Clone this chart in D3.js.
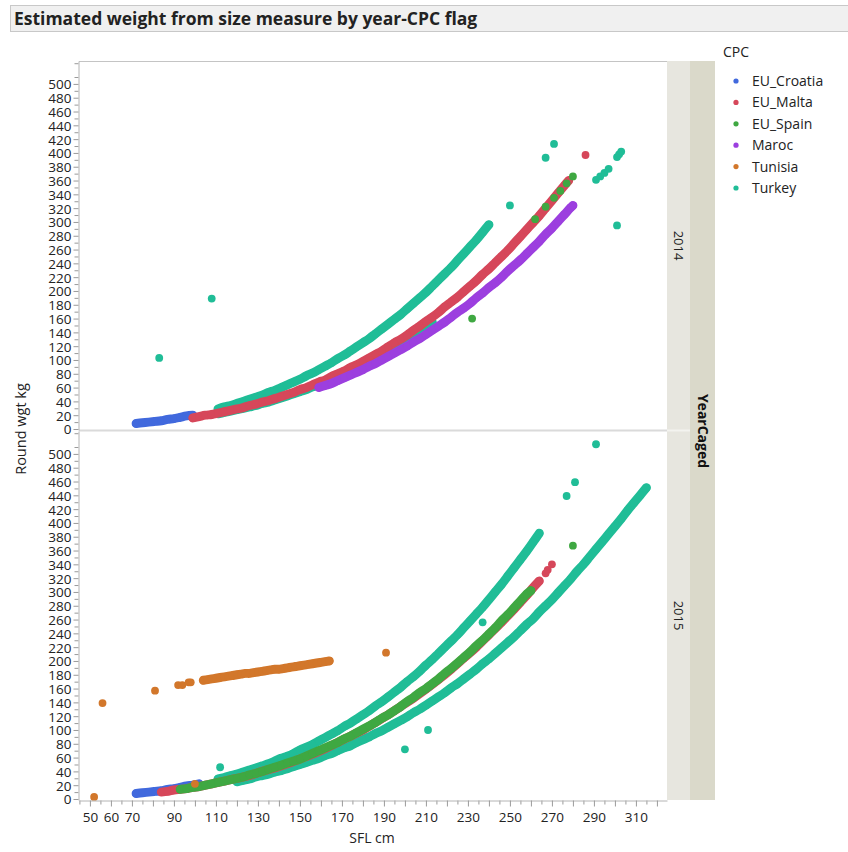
<!DOCTYPE html>
<html>
<head>
<meta charset="utf-8">
<script src="https://cdn.jsdelivr.net/npm/d3@7/dist/d3.min.js"></script>
<style>
  body { margin: 0; background: #fff; }
  svg { font-family: 'Open Sans', sans-serif; display: block; }
</style>
</head>
<body>
<svg id="chart"></svg>
<script>
const categories = ['EU_Croatia', 'EU_Malta', 'EU_Spain', 'Maroc', 'Tunisia', 'Turkey']
const colors = ['#4169dd', '#d6475a', '#3fa842', '#9c3fdf', '#d2772b', '#20bd97']
const years = ['2014', '2015']
const xTickLabels = [50, 60, 70, 90, 110, 130, 150, 170, 190, 210, 230, 250, 270, 290, 310]
const yTickLabels = [0, 20, 40, 60, 80, 100, 120, 140, 160, 180, 200, 220, 240, 260, 280, 300, 320, 340, 360, 380, 400, 420, 440, 460, 480, 500]

// 2014 -- [SFL cm, round wgt kg]; dense runs of fish along a band, then loose fish
const croatia2014 = [[72,8],[75,9],[78,10],[81,11],[84,12],[87,14],[90,15],[93,17],[96,19],[99,20]]
const turkey2014Upper = [[111,29],[114,32],[117,34],[120,37],[123,40],[126,43],[129,46],[132,49],[135,53],[138,56],[141,60],[144,64],[147,68],[150,72],[153,77],[156,81],[159,86],[162,91],[165,96],[168,102],[171,107],[174,113],[177,119],[180,125],[183,131],[186,138],[189,145],[192,152],[195,159],[198,166],[201,174],[204,182],[207,190],[210,198],[213,207],[216,216],[219,225],[222,234],[225,244],[228,254],[231,264],[234,274],[237,285],[240,296]]
const turkey2014Lower = [[111,22],[114,24],[117,26],[120,28],[123,30],[126,32],[129,34],[132,37],[135,39],[138,42],[141,45],[144,48],[147,51],[150,54],[153,57],[156,61],[159,64],[162,68],[165,72],[168,76],[171,80],[174,84],[177,89],[180,93],[183,98],[186,103],[189,108],[192,113],[195,119],[198,124],[201,130],[204,136],[207,142],[210,148],[213,155]]
const turkey2014Loose = [[83,103],[108,189],[250,324],[267,393],[271,413],[301,295],[291,361],[293,366],[295,371],[297,377],[301,394],[302,398],[303,402]]
const malta2014 = [[99,16],[102,18],[105,20],[108,21],[111,23],[114,25],[117,27],[120,29],[123,31],[126,34],[129,36],[132,39],[135,41],[138,44],[141,47],[144,50],[147,53],[150,57],[153,60],[156,64],[159,68],[162,71],[165,76],[168,80],[171,84],[174,89],[177,93],[180,98],[183,103],[186,108],[189,113],[192,119],[195,125],[198,130],[201,136],[204,143],[207,149],[210,156],[213,162],[216,169],[219,177],[222,184],[225,191],[228,199],[231,207],[234,215],[237,224],[240,232],[243,241],[246,250],[249,259],[252,269],[255,279],[258,289],[261,299],[264,309],[267,320],[270,331],[273,342],[276,353],[278,360]]
const malta2014Loose = [[286,397]]
const maroc2014 = [[159,60],[162,63],[165,66],[168,70],[171,74],[174,78],[177,82],[180,86],[183,91],[186,95],[189,100],[192,105],[195,110],[198,115],[201,120],[204,126],[207,131],[210,137],[213,143],[216,149],[219,155],[222,162],[225,169],[228,175],[231,182],[234,190],[237,197],[240,205],[243,212],[246,220],[249,229],[252,237],[255,245],[258,254],[261,263],[264,272],[267,282],[270,291],[273,301],[276,311],[279,321],[280,324]]
const spain2014Loose = [[232,160],[262,304],[267,322],[271,335],[274,345],[277,356],[280,366]]

// 2015
const croatia2015 = [[72,8],[75,9],[78,10],[81,11],[84,12],[87,14],[90,15],[93,17],[96,19],[99,20],[102,22]]
const turkey2015Upper = [[111,29],[114,31],[117,34],[120,36],[123,39],[126,42],[129,45],[132,48],[135,51],[138,55],[141,59],[144,62],[147,66],[150,71],[153,75],[156,79],[159,84],[162,89],[165,94],[168,99],[171,105],[174,110],[177,116],[180,122],[183,128],[186,135],[189,141],[192,148],[195,155],[198,162],[201,170],[204,177],[207,185],[210,194],[213,202],[216,211],[219,220],[222,229],[225,238],[228,248],[231,258],[234,268],[237,278],[240,289],[243,300],[246,311],[249,323],[252,335],[255,347],[258,359],[261,372],[264,385]]
const turkey2015Lower = [[120,25],[123,27],[126,29],[129,32],[132,34],[135,36],[138,39],[141,41],[144,44],[147,47],[150,50],[153,53],[156,56],[159,59],[162,63],[165,66],[168,70],[171,74],[174,77],[177,82],[180,86],[183,90],[186,95],[189,99],[192,104],[195,109],[198,114],[201,119],[204,125],[207,130],[210,136],[213,142],[216,148],[219,154],[222,161],[225,167],[228,174],[231,181],[234,188],[237,196],[240,203],[243,211],[246,219],[249,227],[252,235],[255,244],[258,253],[261,261],[264,271],[267,280],[270,289],[273,299],[276,309],[279,319],[282,330],[285,340],[288,351],[291,362],[294,373],[297,384],[300,395],[303,406],[306,418],[309,429],[312,440],[315,451]]
const turkey2015Loose = [[112,46],[200,72],[211,100],[237,256],[277,439],[281,459],[291,514]]
const malta2015 = [[84,10],[87,11],[90,13],[93,14],[96,15],[99,17],[102,18],[105,20],[108,22],[111,24],[114,26],[117,28],[120,30],[126,34],[132,40],[138,45],[144,51],[150,58],[156,65],[162,73],[168,82],[174,91],[180,100],[186,111],[192,122],[198,134],[204,146],[210,159],[216,173],[222,188],[228,204],[234,220],[240,238],[246,256],[252,275],[255,285],[258,295],[261,306],[264,316]]
const malta2015Loose = [[267,327],[268,332],[270,340]]
const spain2015 = [[93,14],[96,15],[99,17],[102,18],[105,20],[108,22],[111,24],[114,26],[117,28],[120,30],[123,32],[126,35],[129,37],[132,40],[135,43],[138,46],[141,49],[144,52],[147,55],[150,58],[153,62],[156,66],[159,70],[162,74],[165,78],[168,82],[171,87],[174,91],[177,96],[180,101],[183,106],[186,111],[189,117],[192,122],[195,128],[198,134],[201,141],[204,147],[207,154],[210,160],[213,167],[216,174],[219,182],[222,189],[225,197],[228,205],[231,213],[234,222],[237,230],[240,239],[243,248],[246,258],[249,267],[252,277],[255,287],[258,297],[260,302]]
const spain2015Loose = [[280,367]]
const tunisia2015 = [[104,172],[106,173],[108,174],[110,175],[112,176],[114,177],[116,178],[118,179],[120,180],[122,181],[124,182],[126,182],[128,183],[130,184],[132,185],[134,186],[136,187],[138,188],[140,188],[142,189],[144,190],[146,191],[148,192],[150,193],[152,194],[154,195],[156,196],[158,197],[160,198],[162,199],[164,200]]
const tunisia2015Loose = [[52,3],[56,139],[81,157],[92,165],[94,165],[97,169],[98,169],[100,22],[191,212]]

// drawing order inside a panel: category index, dense bands, loose fish
const panels = [
  { year: '2014', layers: [
    { cat: 0, bands: [croatia2014], loose: [] },
    { cat: 5, bands: [turkey2014Lower, turkey2014Upper], loose: turkey2014Loose },
    { cat: 1, bands: [malta2014], loose: malta2014Loose },
    { cat: 3, bands: [maroc2014], loose: [] },
    { cat: 2, bands: [], loose: spain2014Loose },
  ] },
  { year: '2015', layers: [
    { cat: 0, bands: [croatia2015], loose: [] },
    { cat: 5, bands: [turkey2015Lower, turkey2015Upper], loose: turkey2015Loose },
    { cat: 1, bands: [malta2015], loose: malta2015Loose },
    { cat: 2, bands: [spain2015], loose: spain2015Loose },
    { cat: 4, bands: [tunisia2015], loose: tunisia2015Loose },
  ] },
]

const drawChart = () => {
  const config = getConfig()
  const scales = getScales(config)
  drawFrame(config)
  panels.forEach((p, i) => drawPoints(p, i, config, scales))
  drawAxes(config, scales)
  drawStrips(config)
  drawLegend(config)
  drawTitles(config)
}

const getConfig = () => {
  const width = 848
  const height = 852
  const left = 79
  const right = 667
  const panelTop = [61, 431]
  const panelHeight = 369
  const dotR = 3.9
  const container = d3.select('#chart').attr('width', width).attr('height', height)
  return { width, height, left, right, panelTop, panelHeight, dotR, container }
}

const getScales = (config) => {
  const { left, right, panelTop, panelHeight } = config
  const xScale = d3.scaleLinear().domain([44.8, 324.8]).range([left, right])
  const yScales = panelTop.map((t) =>
    d3.scaleLinear().domain([-1.45, 533.2]).range([t + panelHeight, t])
  )
  return { xScale, yScales }
}

const drawFrame = (config) => {
  const { container, left, right, panelTop } = config
  container.append('line')
    .attr('x1', left).attr('x2', right).attr('y1', panelTop[0] + 0.5).attr('y2', panelTop[0] + 0.5)
    .attr('stroke', '#c4c4c4')
  container.append('line')
    .attr('x1', left).attr('x2', right).attr('y1', panelTop[1] - 0.5).attr('y2', panelTop[1] - 0.5)
    .attr('stroke', '#dadada').attr('stroke-width', 2)
}

const drawPoints = (panel, index, config, scales) => {
  const { container, dotR } = config
  const { xScale, yScales } = scales
  const yScale = yScales[index]
  const body = container.append('g').attr('id', 'points' + index)
  const line = d3.line().x((d) => xScale(d[0])).y((d) => yScale(d[1])).curve(d3.curveCatmullRom)

  panel.layers.forEach((layer) => {
    const fill = colors[layer.cat]
    const g = body.append('g')
    layer.bands.forEach((band) => {
      g.append('path')
        .attr('d', line(band))
        .attr('fill', 'none')
        .attr('stroke', fill)
        .attr('stroke-width', dotR * 2.3)
        .attr('stroke-linecap', 'round')
        .attr('stroke-linejoin', 'round')
      g.append('g')
        .selectAll('circle')
        .data(band)
        .enter()
        .append('circle')
        .attr('cx', (d) => xScale(d[0]))
        .attr('cy', (d) => yScale(d[1]))
        .attr('r', dotR)
        .attr('fill', fill)
    })
    g.append('g')
      .selectAll('circle')
      .data(layer.loose)
      .enter()
      .append('circle')
      .attr('cx', (d) => xScale(d[0]))
      .attr('cy', (d) => yScale(d[1]))
      .attr('r', dotR)
      .attr('fill', fill)
  })
}

const drawAxes = (config, scales) => {
  const { container, left, panelTop, panelHeight } = config
  const { xScale, yScales } = scales

  yScales.forEach((yScale) => {
    const minor = container.append('g')
      .attr('transform', `translate(${left - 0.5},0)`)
      .call(d3.axisLeft(yScale).tickValues(d3.range(10, 531, 20)).tickSize(4).tickSizeOuter(0).tickFormat(''))
    minor.select('.domain').remove()
    minor.selectAll('line').attr('stroke', '#9a9a9a')

    const major = container.append('g')
      .attr('transform', `translate(${left - 0.5},0)`)
      .style('font-size', '13.5px')
      .style('font-family', "'Open Sans', sans-serif")
      .call(d3.axisLeft(yScale).tickValues(yTickLabels).tickSize(5).tickSizeOuter(0).tickPadding(2))
    major.select('.domain').attr('stroke', '#b4b4b4')
    major.selectAll('line').attr('stroke', '#9a9a9a')
    major.selectAll('text').attr('fill', '#222').attr('dy', '0.36em')
  })

  const bottom = panelTop[1] + panelHeight
  const minorX = container.append('g')
    .attr('transform', `translate(0,${bottom + 0.5})`)
    .call(d3.axisBottom(xScale).tickValues(d3.range(45, 325, 10)).tickSize(4).tickSizeOuter(0).tickFormat(''))
  minorX.select('.domain').remove()
  minorX.selectAll('line').attr('stroke', '#9a9a9a')

  const axisX = container.append('g')
    .attr('transform', `translate(0,${bottom + 0.5})`)
    .style('font-size', '13.5px')
    .style('font-family', "'Open Sans', sans-serif")
    .call(d3.axisBottom(xScale).tickValues(d3.range(50, 321, 10)).tickSize(6).tickSizeOuter(0)
      .tickFormat((d) => (xTickLabels.includes(d) ? d : '')))
  axisX.select('.domain').attr('stroke', '#b4b4b4')
  axisX.selectAll('line').attr('stroke', '#9a9a9a')
  axisX.selectAll('text').attr('fill', '#222').attr('dy', '0.9em')
}

const drawStrips = (config) => {
  const { container, right, panelTop, panelHeight } = config
  const bottom = panelTop[1] + panelHeight
  container.append('rect')
    .attr('x', right).attr('y', panelTop[0]).attr('width', 23).attr('height', bottom - panelTop[0])
    .attr('fill', '#e7e6df')
  container.append('rect')
    .attr('x', right + 23).attr('y', panelTop[0]).attr('width', 25).attr('height', bottom - panelTop[0])
    .attr('fill', '#dad9ca')
  container.append('line')
    .attr('x1', right).attr('x2', right + 23).attr('y1', panelTop[1] - 0.5).attr('y2', panelTop[1] - 0.5)
    .attr('stroke', '#f3f3ef').attr('stroke-width', 2)
  years.forEach((y, i) => {
    container.append('text')
      .attr('transform', `translate(${right + 7},${panelTop[i] + panelHeight / 2}) rotate(90)`)
      .attr('text-anchor', 'middle')
      .style('font-size', '13px')
      .attr('fill', '#222')
      .text(y)
  })
  container.append('text')
    .attr('transform', `translate(${right + 31},${panelTop[1]}) rotate(90)`)
    .attr('text-anchor', 'middle')
    .style('font-size', '14px')
    .style('font-weight', 'bold')
    .attr('fill', '#111')
    .text('YearCaged')
}

const drawLegend = (config) => {
  const { container } = config
  const legend = container.append('g').attr('transform', 'translate(723,0)')
  legend.append('text').attr('x', 0).attr('y', 57).style('font-size', '14px').attr('fill', '#222').text('CPC')
  const items = legend.selectAll('g.item').data(categories).enter().append('g')
    .attr('transform', (d, i) => `translate(0,${81 + i * 21.4})`)
  items.append('circle').attr('cx', 13).attr('cy', 0).attr('r', 2.6).attr('fill', (d, i) => colors[i])
  items.append('text').attr('x', 29).attr('y', 0).attr('dy', '0.35em')
    .style('font-size', '14px').attr('fill', '#222').text((d) => d)
}

const drawTitles = (config) => {
  const { container } = config
  container.append('rect')
    .attr('x', 10.5).attr('y', 5.5).attr('width', 850).attr('height', 26)
    .attr('fill', '#f0f0f0').attr('stroke', '#c8c8c8')
  container.append('text')
    .attr('x', 14).attr('y', 24.5)
    .style('font-size', '17.5px').style('font-weight', 'bold').attr('fill', '#222')
    .text('Estimated weight from size measure by year-CPC flag')
  container.append('text')
    .attr('transform', 'translate(26,429) rotate(-90)')
    .attr('text-anchor', 'middle')
    .style('font-size', '14.5px').attr('fill', '#222')
    .text('Round wgt kg')
  container.append('text')
    .attr('x', 372).attr('y', 843)
    .attr('text-anchor', 'middle')
    .style('font-size', '14px').attr('fill', '#222')
    .text('SFL cm')
}

drawChart()
</script>
</body>
</html>
